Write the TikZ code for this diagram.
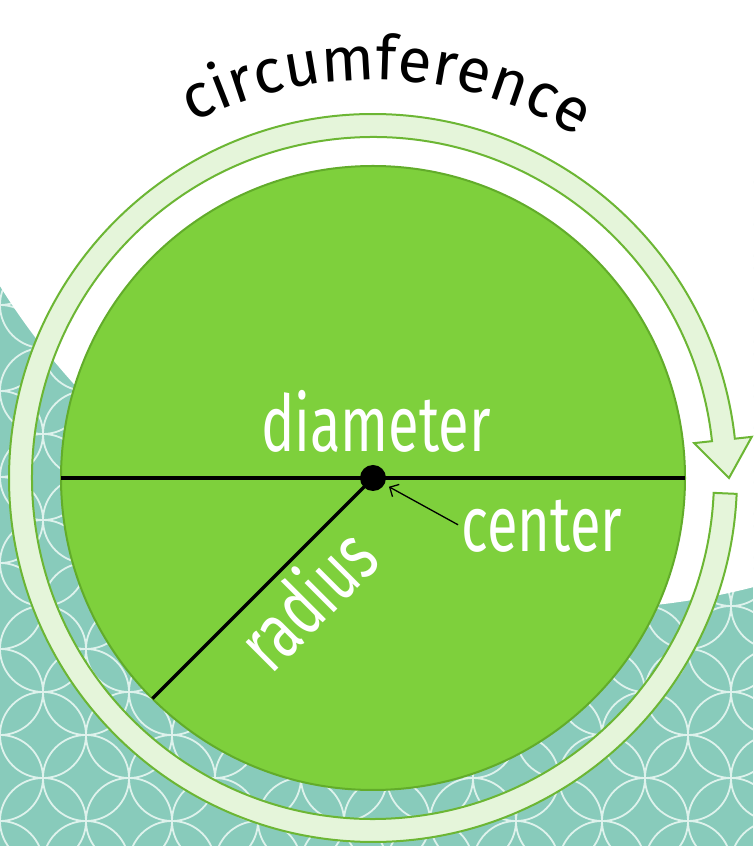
\documentclass[tikz,border=0pt]{standalone}
\usepackage{fontspec}
\setmainfont{Fira Sans}
\usepackage{graphicx}
\usepackage{tikz}
\usetikzlibrary{arrows.meta, positioning, decorations.text}
\definecolor{diskgreen}{RGB}{126,208,60}
\definecolor{diskedge}{RGB}{98,172,42}
\definecolor{ringfill}{RGB}{229,245,218}
\definecolor{ringedge}{RGB}{108,182,52}
\definecolor{tealbg}{RGB}{136,203,187}
\definecolor{petalwhite}{RGB}{222,242,236}
\newcommand{\handsize}{\fontsize{56}{56}\selectfont}
\newcommand{\circsize}{\fontsize{62}{62}\selectfont}
\newcommand{\stretchtxt}[1]{\scalebox{1}[1.4]{#1}}

\begin{document}
\begin{tikzpicture}[x=1pt, y=1pt,
  petal/.style={draw=petalwhite, line width=1.8pt},
  disk/.style={fill=diskgreen, draw=diskedge, line width=2pt},
  ringband/.style={fill=ringfill, draw=ringedge, line width=2pt, line join=miter},
  lbl/.style={white, font=\handsize, inner sep=0pt}]
  \useasboundingbox (0,0) rectangle (753,846);

  % Background
  \fill[tealbg] (0,0) rectangle (753,846);
  \begin{scope}
    \clip (0,0) rectangle (753,846);
    \foreach \m in {0,...,18}{
      \foreach \n in {-1,...,14}{
        \pgfmathtruncatemacro{\oddsum}{mod(\m+\n+20,2)}
        \ifnum\oddsum=1
          \draw[petal] (43*\m, 25+43*\n) circle[radius=43];
        \fi
      }
    }
    \fill[white] (581,921) circle[radius=684];
  \end{scope}

  \coordinate (O) at (373,368);

  % Ring with arrow
  \draw[ringband, shift={(O)}] (-2.5:364) arc[start angle=-2.5, end angle=-353.8, radius=364]
    -- (6.2:381) -- (0:356) -- (6.2:323) -- (6.2:341)
    arc[start angle=-353.8, end angle=-2.5, radius=341] -- cycle;

  % Disk
  \draw[disk] (O) circle[radius=312];
  \coordinate (dL) at ([xshift=-312pt]O);
  \coordinate (dR) at ([xshift=312pt]O);
  \coordinate (rEnd) at ([shift={(225:312)}]O);
  \draw[line width=3.5pt] (dL) -- (dR);
  \draw[line width=3.5pt] (O) -- (rEnd);
  \node[circle, fill=black, inner sep=0pt, minimum size=26pt] (ctr) at (O) {};

  % Labels
  \node[lbl, anchor=base] (lblDiameter) at (376,394) {\stretchtxt{diameter}};
  \node[lbl, anchor=base] (lblCenter) at (542,294) {\stretchtxt{center}};
  \node[lbl, rotate=45] (lblRadius) at (306,248) {\stretchtxt{radius}};
  \draw[-{Straight Barb[length=7pt, width=14pt]}, line width=1.3pt, shorten <=4pt, shorten >=5pt]
    (lblCenter.west) -- (ctr);

  % Circumference along the ring
  \path[decorate, decoration={text along path, text align=center,
      text={|\circsize|circumference}}]
    ([shift={(133:398)}]O) arc[start angle=133, end angle=43, radius=398];
\end{tikzpicture}
\end{document}
